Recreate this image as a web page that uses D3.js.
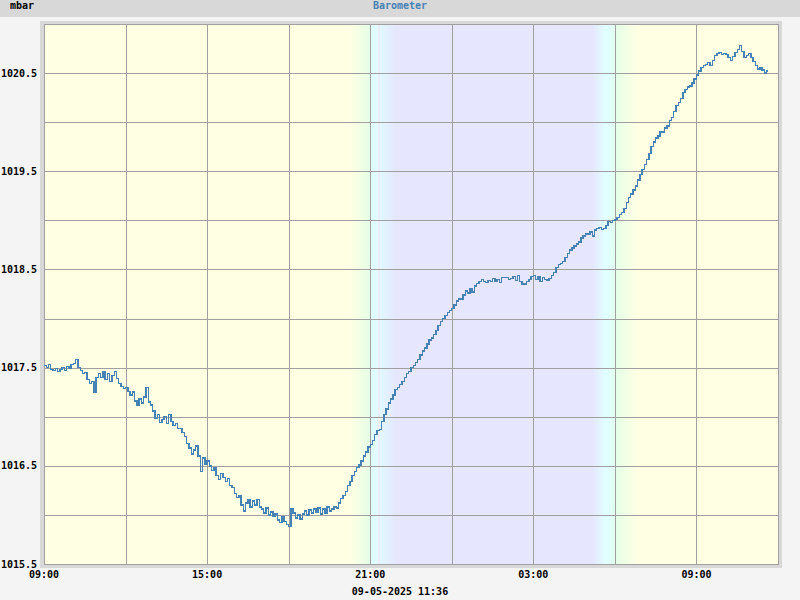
<!DOCTYPE html>
<html><head><meta charset="utf-8">
<script src="https://cdn.jsdelivr.net/npm/d3@7"></script>
<style>
html,body{margin:0;padding:0;background:#f4f4f4;}
svg{display:block;}
text{font-family:"DejaVu Sans Mono","Liberation Mono",monospace;font-weight:bold;font-size:10px;}
</style></head>
<body>
<svg id="chart" width="800" height="600"></svg>
<script>
// ---- data ----
const title = "Barometer";
const unitLabel = "mbar";
const dateLabel = "09-05-2025 11:36";
const startTime = new Date(2025, 4, 8, 9, 0);
const endTime = new Date(2025, 4, 9, 12, 0);
const stepMinutes = 5;
// pressure readings every 5 minutes starting 08-05-2025 09:00 (one row per hour)
const pressure = [
 1017.52,1017.50,1017.53,1017.48,1017.47,1017.49,1017.46,1017.48,1017.50,1017.47,1017.51,1017.49,
 1017.53,1017.54,1017.58,1017.50,1017.47,1017.44,1017.45,1017.38,1017.34,1017.36,1017.25,1017.40,
 1017.44,1017.40,1017.46,1017.38,1017.44,1017.36,1017.42,1017.46,1017.39,1017.34,1017.31,1017.29,
 1017.30,1017.26,1017.22,1017.25,1017.16,1017.12,1017.18,1017.14,1017.20,1017.30,1017.15,1017.12,
 1017.06,1016.98,1017.02,1016.94,1016.97,1017.00,1016.93,1017.02,1016.95,1016.91,1016.93,1016.88,
 1016.88,1016.84,1016.80,1016.73,1016.68,1016.62,1016.66,1016.70,1016.60,1016.44,1016.58,1016.52,
 1016.55,1016.50,1016.45,1016.48,1016.40,1016.36,1016.42,1016.38,1016.34,1016.37,1016.30,1016.28,
 1016.22,1016.18,1016.20,1016.10,1016.04,1016.12,1016.16,1016.08,1016.14,1016.10,1016.16,1016.08,
 1016.06,1016.02,1016.07,1016.00,1016.03,1015.99,1016.01,1015.95,1015.92,1015.98,1015.93,1015.90,
 1015.88,1016.06,1016.02,1015.97,1016.00,1015.96,1016.01,1016.04,1016.00,1016.05,1016.02,1016.06,
 1016.03,1016.07,1016.01,1016.06,1016.02,1016.08,1016.04,1016.06,1016.08,1016.07,1016.12,1016.17,
 1016.20,1016.24,1016.30,1016.34,1016.40,1016.44,1016.48,1016.51,1016.55,1016.60,1016.64,1016.69,
 1016.72,1016.76,1016.82,1016.86,1016.87,1016.95,1017.02,1017.08,1017.14,1017.18,1017.22,1017.28,
 1017.30,1017.33,1017.36,1017.40,1017.44,1017.46,1017.50,1017.52,1017.55,1017.58,1017.63,1017.67,
 1017.70,1017.74,1017.78,1017.80,1017.84,1017.88,1017.93,1017.97,1018.00,1018.03,1018.06,1018.08,
 1018.10,1018.14,1018.18,1018.20,1018.20,1018.24,1018.28,1018.26,1018.30,1018.27,1018.33,1018.36,
 1018.38,1018.40,1018.38,1018.37,1018.39,1018.38,1018.41,1018.38,1018.40,1018.37,1018.42,1018.42,
 1018.42,1018.40,1018.41,1018.43,1018.39,1018.44,1018.38,1018.35,1018.35,1018.38,1018.40,1018.43,
 1018.44,1018.40,1018.43,1018.38,1018.42,1018.40,1018.39,1018.41,1018.44,1018.47,1018.52,1018.55,
 1018.56,1018.58,1018.62,1018.66,1018.70,1018.72,1018.74,1018.76,1018.78,1018.82,1018.84,1018.86,
 1018.86,1018.88,1018.84,1018.90,1018.92,1018.93,1018.91,1018.92,1018.95,1018.99,1018.98,1019.00,
 1019.01,1019.03,1019.06,1019.08,1019.12,1019.18,1019.23,1019.27,1019.31,1019.35,1019.41,1019.47,
 1019.52,1019.57,1019.62,1019.68,1019.75,1019.80,1019.84,1019.86,1019.90,1019.90,1019.94,1019.96,
 1020.02,1020.05,1020.11,1020.17,1020.20,1020.24,1020.30,1020.33,1020.36,1020.37,1020.40,1020.44,
 1020.48,1020.52,1020.56,1020.58,1020.59,1020.61,1020.58,1020.63,1020.68,1020.70,1020.71,1020.69,
 1020.70,1020.69,1020.66,1020.63,1020.67,1020.71,1020.74,1020.78,1020.72,1020.66,1020.68,1020.70,
 1020.66,1020.62,1020.58,1020.54,1020.56,1020.53,1020.50,1020.52
];
const lastReading = {time: new Date(2025, 4, 9, 11, 36), value: 1020.51};
const yDomain = [1015.5, 1021.0];
const yGridValues = [1015.5,1016.0,1016.5,1017.0,1017.5,1018.0,1018.5,1019.0,1019.5,1020.0,1020.5,1021.0];
const yLabelValues = [1015.5,1016.5,1017.5,1018.5,1019.5,1020.5];
const xGridTimes = [
 new Date(2025,4,8,9),new Date(2025,4,8,12),new Date(2025,4,8,15),new Date(2025,4,8,18),
 new Date(2025,4,8,21),new Date(2025,4,9,0),new Date(2025,4,9,3),new Date(2025,4,9,6),
 new Date(2025,4,9,9),new Date(2025,4,9,12)];
const xLabelTimes = [new Date(2025,4,8,9),new Date(2025,4,8,15),new Date(2025,4,8,21),new Date(2025,4,9,3),new Date(2025,4,9,9)];
// day/night shading: [time, colour]
const dayNightStops = [
 [new Date(2025,4,8,9,0), "#ffffe4"],
 [new Date(2025,4,8,20,15), "#ffffe4"],
 [new Date(2025,4,8,20,58), "#e6ffe6"],
 [new Date(2025,4,8,21,5), "#e0ffff"],
 [new Date(2025,4,8,21,30), "#e2f4ff"],
 [new Date(2025,4,8,22,0), "#e6e6ff"],
 [new Date(2025,4,9,5,10), "#e6e6ff"],
 [new Date(2025,4,9,5,40), "#e0ffff"],
 [new Date(2025,4,9,6,0), "#e2fff0"],
 [new Date(2025,4,9,6,5), "#e6ffe6"],
 [new Date(2025,4,9,6,50), "#ffffe4"],
 [new Date(2025,4,9,12,0), "#ffffe4"]
];

// ---- layout ----
const svg = d3.select("#chart");
const L = 44, R = 778, T = 24, B = 564;
const x = d3.scaleTime().domain([startTime, endTime]).range([L, R]);
const y = d3.scaleLinear().domain(yDomain).range([B, T]);

const series = pressure.map((v, i) => ({time: new Date(startTime.getTime() + i * stepMinutes * 60000), value: v}));
series.push(lastReading);

// page background & header
svg.append("rect").attr("width", 800).attr("height", 600).attr("fill", "#f4f4f4");
svg.append("rect").attr("width", 800).attr("height", 17).attr("fill", "#d8d8d8");
svg.append("text").attr("x", 10).attr("y", 9).attr("fill", "#000").text(unitLabel);
svg.append("text").attr("x", 400).attr("y", 9).attr("text-anchor", "middle").attr("fill", "#4682b4").text(title);

// frame
svg.append("rect").attr("x", 40).attr("y", 21).attr("width", 742).attr("height", 547).attr("fill", "#d8d8d8");

// day/night gradient
const defs = svg.append("defs");
const grad = defs.append("linearGradient").attr("id", "dn").attr("gradientUnits", "userSpaceOnUse")
  .attr("x1", L).attr("x2", R).attr("y1", 0).attr("y2", 0);
dayNightStops.forEach(([t, c]) => grad.append("stop").attr("offset", (x(t) - L) / (R - L)).attr("stop-color", c));
svg.append("rect").attr("x", L).attr("y", T).attr("width", R - L).attr("height", B - T).attr("fill", "url(#dn)");
// faint sunset marker
svg.append("line").attr("x1", x(new Date(2025,4,8,21,18)) + 0.5).attr("x2", x(new Date(2025,4,8,21,18)) + 0.5)
  .attr("y1", T).attr("y2", B).attr("stroke", "#f6e2ee").attr("stroke-width", 1);

// grid
const g = svg.append("g").attr("shape-rendering", "crispEdges");
g.selectAll(".hg").data(yGridValues).enter().append("line")
  .attr("x1", L).attr("x2", R).attr("y1", d => Math.round(y(d)) + 0.5).attr("y2", d => Math.round(y(d)) + 0.5)
  .attr("stroke", "#a0a0a0");
g.selectAll(".vg").data(xGridTimes).enter().append("line")
  .attr("y1", T).attr("y2", B).attr("x1", d => Math.round(x(d)) + 0.5).attr("x2", d => Math.round(x(d)) + 0.5)
  .attr("stroke", "#a0a0a0");
g.append("rect").attr("x", L + 0.5).attr("y", T + 0.5).attr("width", R - L).attr("height", B - T)
  .attr("fill", "none").attr("stroke", "#a0a0a0");

// line
const line = d3.line().x(d => x(d.time)).y(d => y(d.value)).curve(d3.curveStepAfter);
svg.append("path").datum(series).attr("d", line).attr("fill", "none")
  .attr("stroke", "#4682b4").attr("stroke-width", 1.4).attr("shape-rendering", "crispEdges");

// axes labels
svg.selectAll(".yl").data(yLabelValues).enter().append("text")
  .attr("x", 37).attr("y", d => y(d) + 3.6).attr("text-anchor", "end").attr("fill", "#000")
  .text(d => d.toFixed(1));
const fmt = d3.timeFormat("%H:%M");
svg.selectAll(".xl").data(xLabelTimes).enter().append("text")
  .attr("x", d => x(d)).attr("y", 578).attr("text-anchor", "middle").attr("fill", "#000")
  .text(d => fmt(d));
svg.append("text").attr("x", 400).attr("y", 595).attr("text-anchor", "middle").attr("fill", "#000").text(dateLabel);
</script>
</body></html>
